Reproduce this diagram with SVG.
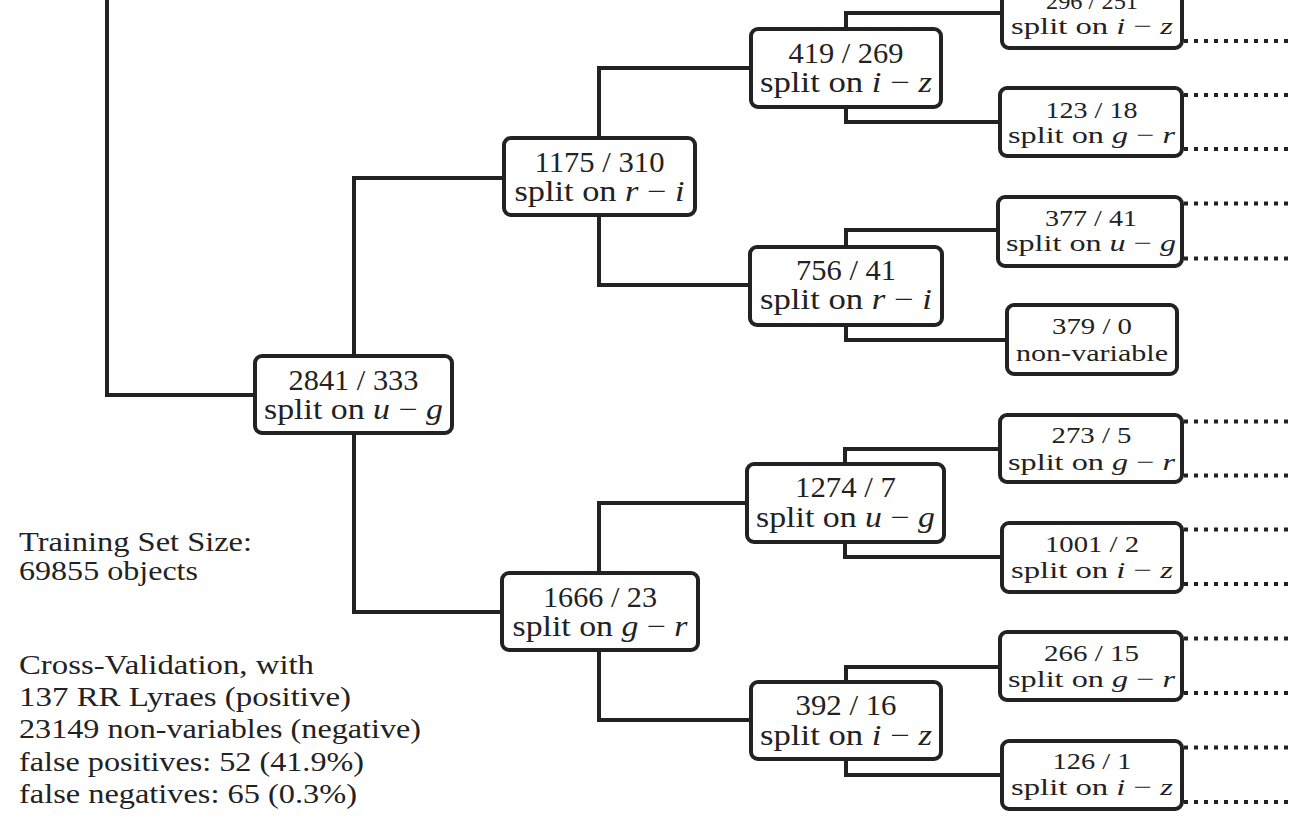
<svg xmlns="http://www.w3.org/2000/svg" width="1302" height="838" viewBox="0 0 1302 838" font-family="'Liberation Serif', 'Times New Roman', serif">
  <style>
    .box { fill: #ffffff; stroke: #222222; stroke-width: 4; }
    .edge { fill: none; stroke: #222222; stroke-width: 4; stroke-linejoin: miter; }
    .dots { fill: none; stroke: #222222; stroke-width: 4; stroke-dasharray: 4 6; }
    text { font-family: "Liberation Serif", "Times New Roman", serif; fill: #222222; }
    .m { font-size: 29px; text-anchor: middle; }
    .s { font-size: 24px; text-anchor: middle; }
    .note { font-size: 27px; }
    .v { font-style: italic; }
  </style>

  <!-- tree connectors -->
  <g id="connectors">
    <path class="edge" d="M107,-5 V395 H255"/>
    <path class="edge" d="M354,356 V178 H504"/>
    <path class="edge" d="M354,433 V612 H502"/>
    <path class="edge" d="M599,138 V68 H751"/>
    <path class="edge" d="M599,215 V285 H750"/>
    <path class="edge" d="M599,573 V503 H747"/>
    <path class="edge" d="M599,650 V720 H751"/>
    <path class="edge" d="M846,29 V13 H1002"/>
    <path class="edge" d="M846,107 V122 H1000"/>
    <path class="edge" d="M846,247 V230 H998"/>
    <path class="edge" d="M846,325 V340 H1007"/>
    <path class="edge" d="M845,464 V449 H1000"/>
    <path class="edge" d="M845,542 V557 H1002"/>
    <path class="edge" d="M846,682 V667 H1000"/>
    <path class="edge" d="M846,759 V775 H1002"/>
    <!-- truncated branches continuing off to the right -->
    <path class="dots" d="M1184,41 H1290"/>
    <path class="dots" d="M1184,95 H1290"/>
    <path class="dots" d="M1184,149 H1290"/>
    <path class="dots" d="M1184,203.5 H1290"/>
    <path class="dots" d="M1184,258.5 H1290"/>
    <path class="dots" d="M1184,421.5 H1290"/>
    <path class="dots" d="M1184,475.5 H1290"/>
    <path class="dots" d="M1184,529.5 H1290"/>
    <path class="dots" d="M1184,584 H1290"/>
    <path class="dots" d="M1184,638.5 H1290"/>
    <path class="dots" d="M1184,693 H1290"/>
    <path class="dots" d="M1184,747.5 H1290"/>
    <path class="dots" d="M1184,802 H1290"/>
  </g>

  <!-- level 0 -->
  <g id="n2841">
    <rect class="box" x="255" y="356" width="197" height="77" rx="7"/>
    <text class="m" x="353.5" y="390" textLength="130" lengthAdjust="spacingAndGlyphs">2841 / 333</text>
    <text class="m" x="353.5" y="419" textLength="179" lengthAdjust="spacingAndGlyphs">split on <tspan class="v">u</tspan> − <tspan class="v">g</tspan></text>
  </g>

  <!-- level 1 -->
  <g id="n1175">
    <rect class="box" x="504" y="138" width="191" height="77" rx="7"/>
    <text class="m" x="599.5" y="172" textLength="130" lengthAdjust="spacingAndGlyphs">1175 / 310</text>
    <text class="m" x="599.5" y="201" textLength="170" lengthAdjust="spacingAndGlyphs">split on <tspan class="v">r</tspan> − <tspan class="v">i</tspan></text>
  </g>
  <g id="n1666">
    <rect class="box" x="502" y="573" width="196" height="77" rx="7"/>
    <text class="m" x="600" y="607" textLength="114" lengthAdjust="spacingAndGlyphs">1666 / 23</text>
    <text class="m" x="600" y="636" textLength="175" lengthAdjust="spacingAndGlyphs">split on <tspan class="v">g</tspan> − <tspan class="v">r</tspan></text>
  </g>

  <!-- level 2 -->
  <g id="n419">
    <rect class="box" x="751" y="29" width="190" height="78" rx="7"/>
    <text class="m" x="846" y="63" textLength="115" lengthAdjust="spacingAndGlyphs">419 / 269</text>
    <text class="m" x="846" y="92" textLength="172" lengthAdjust="spacingAndGlyphs">split on <tspan class="v">i</tspan> − <tspan class="v">z</tspan></text>
  </g>
  <g id="n756">
    <rect class="box" x="750" y="247" width="192" height="78" rx="7"/>
    <text class="m" x="846" y="280" textLength="100" lengthAdjust="spacingAndGlyphs">756 / 41</text>
    <text class="m" x="846" y="309" textLength="172" lengthAdjust="spacingAndGlyphs">split on <tspan class="v">r</tspan> − <tspan class="v">i</tspan></text>
  </g>
  <g id="n1274">
    <rect class="box" x="747" y="464" width="197" height="78" rx="7"/>
    <text class="m" x="845.5" y="497" textLength="101" lengthAdjust="spacingAndGlyphs">1274 / 7</text>
    <text class="m" x="845.5" y="527" textLength="179" lengthAdjust="spacingAndGlyphs">split on <tspan class="v">u</tspan> − <tspan class="v">g</tspan></text>
  </g>
  <g id="n392">
    <rect class="box" x="751" y="682" width="190" height="77" rx="7"/>
    <text class="m" x="846" y="715" textLength="101" lengthAdjust="spacingAndGlyphs">392 / 16</text>
    <text class="m" x="846" y="745" textLength="172" lengthAdjust="spacingAndGlyphs">split on <tspan class="v">i</tspan> − <tspan class="v">z</tspan></text>
  </g>

  <!-- level 3 -->
  <g id="n296">
    <rect class="box" x="1002" y="-20" width="180" height="68" rx="7"/>
    <text class="s" x="1092" y="9" textLength="92" lengthAdjust="spacingAndGlyphs">296 / 251</text>
    <text class="s" x="1092" y="34" textLength="162" lengthAdjust="spacingAndGlyphs">split on <tspan class="v">i</tspan> − <tspan class="v">z</tspan></text>
  </g>
  <g id="n123">
    <rect class="box" x="1000" y="88" width="182" height="68" rx="7"/>
    <text class="s" x="1091.5" y="118" textLength="92" lengthAdjust="spacingAndGlyphs">123 / 18</text>
    <text class="s" x="1091.5" y="143" textLength="167" lengthAdjust="spacingAndGlyphs">split on <tspan class="v">g</tspan> − <tspan class="v">r</tspan></text>
  </g>
  <g id="n377">
    <rect class="box" x="998" y="197" width="184" height="69" rx="7"/>
    <text class="s" x="1091" y="226" textLength="92" lengthAdjust="spacingAndGlyphs">377 / 41</text>
    <text class="s" x="1091" y="251" textLength="170" lengthAdjust="spacingAndGlyphs">split on <tspan class="v">u</tspan> − <tspan class="v">g</tspan></text>
  </g>
  <g id="n379">
    <rect class="box" x="1007" y="305" width="170" height="69" rx="7"/>
    <text class="s" x="1092" y="334" textLength="80" lengthAdjust="spacingAndGlyphs">379 / 0</text>
    <text class="s" x="1092" y="361" textLength="152" lengthAdjust="spacingAndGlyphs">non-variable</text>
  </g>
  <g id="n273">
    <rect class="box" x="1000" y="415" width="182" height="67" rx="7"/>
    <text class="s" x="1091.5" y="443" textLength="80" lengthAdjust="spacingAndGlyphs">273 / 5</text>
    <text class="s" x="1091.5" y="470" textLength="167" lengthAdjust="spacingAndGlyphs">split on <tspan class="v">g</tspan> − <tspan class="v">r</tspan></text>
  </g>
  <g id="n1001">
    <rect class="box" x="1002" y="523" width="180" height="69" rx="7"/>
    <text class="s" x="1092" y="552" textLength="94" lengthAdjust="spacingAndGlyphs">1001 / 2</text>
    <text class="s" x="1092" y="578" textLength="162" lengthAdjust="spacingAndGlyphs">split on <tspan class="v">i</tspan> − <tspan class="v">z</tspan></text>
  </g>
  <g id="n266">
    <rect class="box" x="1000" y="632" width="182" height="68" rx="7"/>
    <text class="s" x="1091.5" y="661" textLength="95" lengthAdjust="spacingAndGlyphs">266 / 15</text>
    <text class="s" x="1091.5" y="687" textLength="167" lengthAdjust="spacingAndGlyphs">split on <tspan class="v">g</tspan> − <tspan class="v">r</tspan></text>
  </g>
  <g id="n126">
    <rect class="box" x="1002" y="741" width="180" height="68" rx="7"/>
    <text class="s" x="1092" y="769" textLength="79" lengthAdjust="spacingAndGlyphs">126 / 1</text>
    <text class="s" x="1092" y="795" textLength="162" lengthAdjust="spacingAndGlyphs">split on <tspan class="v">i</tspan> − <tspan class="v">z</tspan></text>
  </g>

  <!-- summary notes -->
  <g id="training-note">
    <text class="note" x="19" y="551" textLength="233" lengthAdjust="spacingAndGlyphs">Training Set Size:</text>
    <text class="note" x="19" y="580" textLength="179" lengthAdjust="spacingAndGlyphs">69855 objects</text>
  </g>
  <g id="validation-note">
    <text class="note" x="19" y="674" textLength="295" lengthAdjust="spacingAndGlyphs">Cross-Validation, with</text>
    <text class="note" x="19" y="706" textLength="332" lengthAdjust="spacingAndGlyphs">137 RR Lyraes (positive)</text>
    <text class="note" x="19" y="738" textLength="402" lengthAdjust="spacingAndGlyphs">23149 non-variables (negative)</text>
    <text class="note" x="19" y="771" textLength="345" lengthAdjust="spacingAndGlyphs">false positives: 52 (41.9%)</text>
    <text class="note" x="19" y="803" textLength="338" lengthAdjust="spacingAndGlyphs">false negatives: 65 (0.3%)</text>
  </g>
</svg>
